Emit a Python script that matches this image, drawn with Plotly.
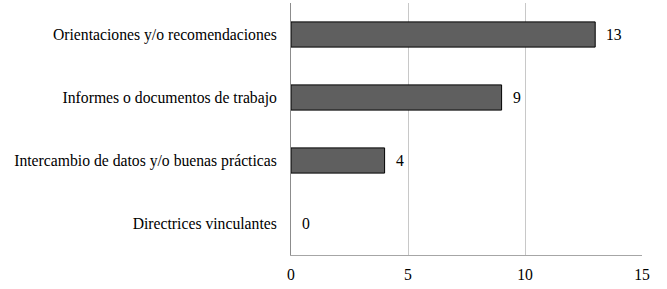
import plotly.graph_objects as go

categories = ["Orientaciones y/o recomendaciones",
              "Informes o documentos de trabajo",
              "Intercambio de datos y/o buenas prácticas",
              "Directrices vinculantes"]
values = [13, 9, 4, 0]
x_ticks = [0, 5, 10, 15]

FONT = "Liberation Serif, Times New Roman, serif"
FS = 15.7

fig = go.Figure(go.Bar(
    x=values, y=categories, orientation="h",
    marker=dict(color="#5f5f5f",
                line=dict(color="#000000", width=[1 if v > 0 else 0 for v in values])),
    width=0.4,
))

for v, c in zip(values, categories):
    fig.add_annotation(x=v, y=c, text=str(v), showarrow=False,
                       xanchor="left", xshift=9,
                       font=dict(family=FONT, size=FS, color="#000000"))

fig.update_layout(
    width=667, height=289,
    margin=dict(l=291, r=25, t=3, b=34),
    paper_bgcolor="white", plot_bgcolor="white",
    showlegend=False,
    font=dict(family=FONT, size=FS, color="#000000"),
)
fig.update_xaxes(range=[0, 15], tickvals=x_ticks, showgrid=True,
                 gridcolor="#c8c8c8", gridwidth=1, zeroline=False,
                 showline=True, linecolor="#a6a6a6", linewidth=1,
                 ticks="", ticklabelstandoff=5)
fig.update_yaxes(autorange="reversed", showline=True, linecolor="#8c8c8c",
                 linewidth=1, ticks="", ticklabelstandoff=10)

fig.write_html("out.html")
